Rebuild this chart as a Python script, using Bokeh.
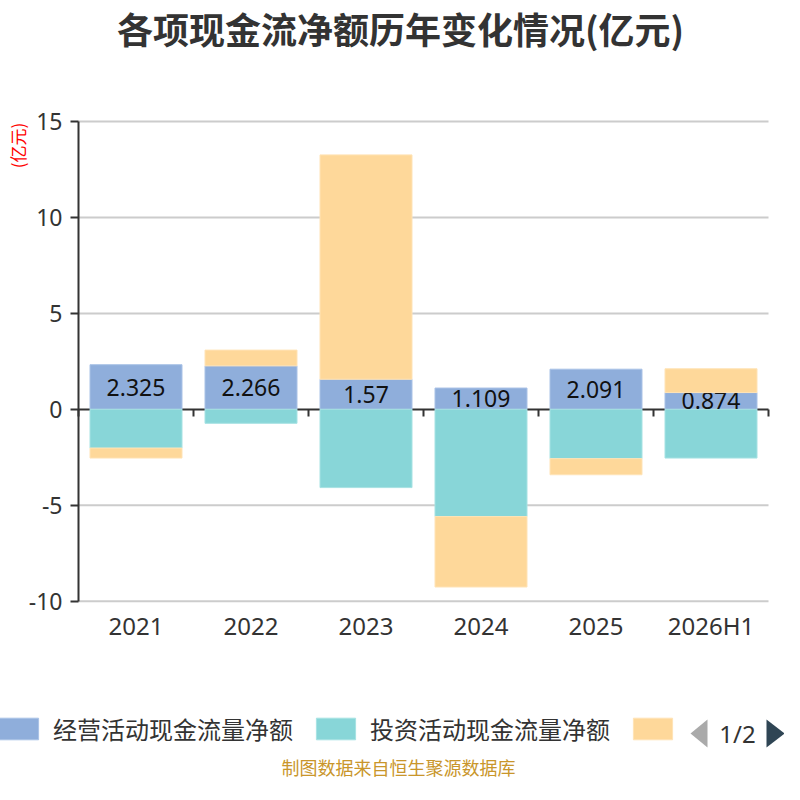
import numpy as np
from bokeh.plotting import figure
from bokeh.models import (ColumnDataSource, Range1d, FixedTicker, LinearAxis,
                          Legend, LegendItem, Label, PolyAnnotation)
from bokeh.core.properties import value
from bokeh.embed import file_html
from bokeh.resources import INLINE

# data (亿元)
categories = ["2021", "2022", "2023", "2024", "2025", "2026H1"]
series_names = ["经营活动现金流量净额", "投资活动现金流量净额", "筹资活动现金流量净额"]
operating = [2.325, 2.266, 1.57, 1.109, 2.091, 0.874]
investing = [-2.02, -0.73, -4.08, -5.59, -2.57, -2.54]
financing = [-0.52, 0.82, 11.69, -3.67, -0.84, 1.24]
y_ticks = [-10, -5, 0, 5, 10, 15]

colors = ["#8FAEDB", "#88D6D8", "#FED89A"]
edges = ["#A9C2E6", "#A6E2E3", "#FFE3B6"]
CJK = "Noto Sans CJK SC"
LATIN = "Noto Sans"
INK = "#333333"

W = H = 784
# pixel box of the plotting area inside the canvas
LEFT, RIGHT, TOP, BOTTOM = 78, 768, 121, 600.7

n = len(categories)
x = np.arange(n) + 0.5
op = np.array(operating)
inv = np.array(investing)
fin = np.array(financing)
# financing stacks on the positive or the negative side
fin_bottom = np.where(fin > 0, op, inv)
fin_top = fin_bottom + fin

src = ColumnDataSource(dict(
    x=x, zero=np.zeros(n), op=op, inv=inv,
    fin_b=fin_bottom, fin_t=fin_top,
    op_mid=op / 2, op_lbl=[str(v) for v in operating],
))

# the frame covers the whole canvas, so legend and notes are not clipped
xs = (RIGHT - LEFT) / n
ys = (BOTTOM - TOP) / (y_ticks[-1] - y_ticks[0])
x_range = Range1d(-LEFT / xs, n + (W - RIGHT) / xs)
y_range = Range1d(y_ticks[0] - (H - BOTTOM) / ys, y_ticks[-1] + TOP / ys)

p = figure(width=W, height=H, x_range=x_range, y_range=y_range,
           x_axis_type=None, y_axis_type=None, title=None,
           output_backend="svg", toolbar_location=None, min_border=0)
p.outline_line_color = None

# horizontal grid lines across the category span (zero is the axis line)
grid_y = [t for t in y_ticks if t != 0]
p.segment(x0=[0] * len(grid_y), x1=[n] * len(grid_y), y0=grid_y, y1=grid_y,
          line_color="#cccccc", line_width=2)

# y axis
yaxis = LinearAxis(fixed_location=0, bounds=(y_ticks[0], y_ticks[-1]),
                   ticker=FixedTicker(ticks=y_ticks),
                   major_label_overrides={t: str(t) for t in y_ticks},
                   axis_line_width=2, axis_line_color=INK,
                   major_tick_line_width=2, major_tick_line_color=INK,
                   major_tick_out=8, major_tick_in=0, minor_tick_line_color=None,
                   major_label_text_font=LATIN, major_label_text_font_size="23px",
                   major_label_text_color=INK, major_label_standoff=8)
p.add_layout(yaxis, "left")

# category labels under the -10 line
xaxis = LinearAxis(fixed_location=y_ticks[0], ticker=FixedTicker(ticks=list(x)),
                   major_label_overrides={float(v): c for v, c in zip(x, categories)},
                   axis_line_color=None, major_tick_line_color=None,
                   minor_tick_line_color=None,
                   major_label_text_font=LATIN, major_label_text_font_size="24px",
                   major_label_text_color=INK, major_label_standoff=2)
p.add_layout(xaxis, "below")

# axis line at zero, ticks on the category boundaries
bounds = list(range(n + 1))
zero_axis = LinearAxis(fixed_location=0, bounds=(0, n), ticker=FixedTicker(ticks=bounds),
                       major_label_overrides={b: "" for b in bounds},
                       axis_line_width=2, axis_line_color=INK,
                       major_tick_line_width=2, major_tick_line_color=INK,
                       major_tick_out=7, major_tick_in=0,
                       minor_tick_line_color=None, level="underlay")
p.add_layout(zero_axis, "below")

r_op = p.vbar(x="x", width=0.8, bottom="zero", top="op", source=src,
              fill_color=colors[0], line_color=edges[0], line_width=1)
r_inv = p.vbar(x="x", width=0.8, bottom="inv", top="zero", source=src,
               fill_color=colors[1], line_color=edges[1], line_width=1)
p.text(x="x", y="op_mid", text="op_lbl", source=src,
       text_font=value(LATIN), text_font_size="23px", text_color="#111111",
       text_align="center", text_baseline="middle")
r_fin = p.vbar(x="x", width=0.8, bottom="fin_b", top="fin_t", source=src,
               fill_color=colors[2], line_color=edges[2], line_width=1)


def sy(py):
    # screen units count up from the bottom of the frame
    return H - py


p.add_layout(Label(x=400, y=sy(27), x_units="screen", y_units="screen",
                   text="各项现金流净额历年变化情况(亿元)", text_align="center",
                   text_baseline="middle", text_font=CJK, text_font_size="36px",
                   text_font_style="bold", text_color=INK))

p.add_layout(Label(x=17, y=sy(145), x_units="screen", y_units="screen",
                   text="(亿元)", angle=np.pi / 2, text_align="center",
                   text_baseline="middle", text_font=CJK,
                   text_font_size="17px", text_color="red"))

# legend (paged: third label hidden, as in the reference)
legend = Legend(items=[LegendItem(label=series_names[0], renderers=[r_op]),
                       LegendItem(label=series_names[1], renderers=[r_inv]),
                       LegendItem(label="", renderers=[r_fin])],
                location=(-6, sy(746)), orientation="horizontal",
                glyph_width=49, glyph_height=27, label_height=27,
                label_standoff=10, spacing=18, padding=0, margin=0,
                label_text_font=CJK, label_text_font_size="24px",
                label_text_color=INK, label_text_baseline="middle",
                border_line_color=None, background_fill_alpha=0)
p.add_layout(legend, "center")

# legend pager
p.add_layout(PolyAnnotation(xs=[690, 707, 707], ys=[sy(733), sy(719), sy(747)],
                            xs_units="screen", ys_units="screen",
                            fill_color="#aaaaaa", fill_alpha=1, line_color=None))
p.add_layout(Label(x=737, y=sy(733), x_units="screen", y_units="screen",
                   text="1/2", text_align="center", text_baseline="middle",
                   text_font=LATIN, text_font_size="24px", text_color=INK))
p.add_layout(PolyAnnotation(xs=[766, 784, 766], ys=[sy(719), sy(733), sy(747)],
                            xs_units="screen", ys_units="screen",
                            fill_color="#2F4554", fill_alpha=1, line_color=None))

# source note
p.add_layout(Label(x=398, y=sy(766), x_units="screen", y_units="screen",
                   text="制图数据来自恒生聚源数据库", text_align="center",
                   text_baseline="middle", text_font=CJK,
                   text_font_size="18px", text_color="#C9962B"))

open("out.html", "w").write(file_html(p, INLINE))
